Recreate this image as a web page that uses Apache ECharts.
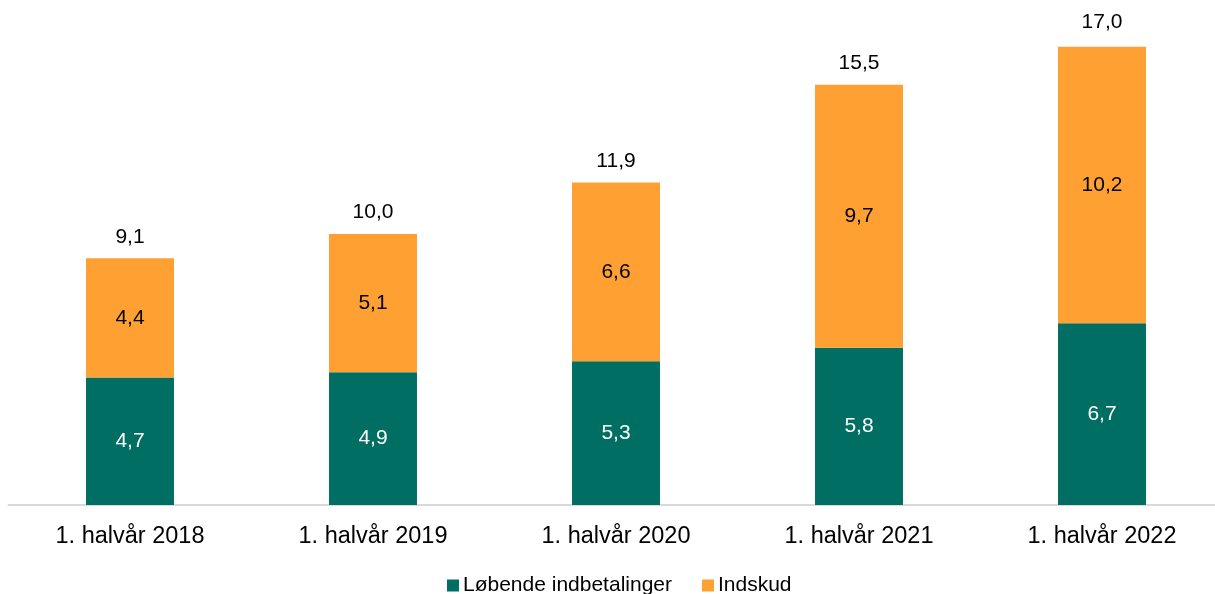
<!DOCTYPE html>
<html>
<head>
<meta charset="utf-8">
<script src="https://cdn.jsdelivr.net/npm/echarts@6/dist/echarts.min.js"></script>
<style>
html,body{margin:0;padding:0;background:#fff;}
#chart{width:1215px;height:594px;}
</style>
</head>
<body>
<div id="chart"></div>
<script>
const categories = ['1. halvår 2018', '1. halvår 2019', '1. halvår 2020', '1. halvår 2021', '1. halvår 2022'];
const lobende = [4.7, 4.9, 5.3, 5.8, 6.7];
const indskud = [4.4, 5.1, 6.6, 9.7, 10.2];
const totals = [9.1, 10.0, 11.9, 15.5, 17.0];
const seriesNames = ['Løbende indbetalinger', 'Indskud'];

const fmt = v => v.toFixed(1).replace('.', ',');
const FONT = '"Liberation Sans", Arial, sans-serif';

const chart = echarts.init(document.getElementById('chart'), null, {renderer: 'canvas'});
chart.setOption({
  animation: false,
  textStyle: {fontFamily: FONT},
  grid: {left: 8.5, right: -8.5, top: 17, bottom: 89, containLabel: false, outerBoundsMode: 'none'},
  legend: {
    data: seriesNames,
    left: 442, bottom: -7,
    itemWidth: 12, itemHeight: 12, itemGap: 30,
    icon: 'rect',
    textStyle: {fontFamily: FONT, fontSize: 21, color: '#000', padding: [0, 0, 0, -1]}
  },
  xAxis: {
    type: 'category',
    data: categories,
    axisTick: {show: false},
    axisLine: {lineStyle: {color: '#d9d9d9', width: 2}},
    axisLabel: {fontFamily: FONT, fontSize: 23.5, color: '#000', margin: 20}
  },
  yAxis: {type: 'value', min: 0, max: 18, show: false, splitLine: {show: false}},
  series: [
    {
      name: seriesNames[0], type: 'bar', stack: 's', barWidth: '36.2%',
      data: lobende,
      itemStyle: {color: '#006E63'},
      label: {show: true, position: 'inside', fontFamily: FONT, fontSize: 21, color: '#fff', formatter: p => fmt(p.value)}
    },
    {
      name: seriesNames[1], type: 'bar', stack: 's', barWidth: '36.2%',
      data: indskud,
      itemStyle: {color: '#FFA033'},
      label: {show: true, position: 'inside', fontFamily: FONT, fontSize: 21, color: '#000', formatter: p => fmt(p.value)}
    },
    {
      name: 'Total', type: 'bar', barWidth: '36.2%', barGap: '-100%',
      data: totals, z: 0,
      itemStyle: {color: 'rgba(0,0,0,0)'},
      label: {show: true, position: 'top', distance: 11, fontFamily: FONT, fontSize: 21, color: '#000', formatter: p => fmt(p.value)}
    }
  ]
});
</script>
</body>
</html>
